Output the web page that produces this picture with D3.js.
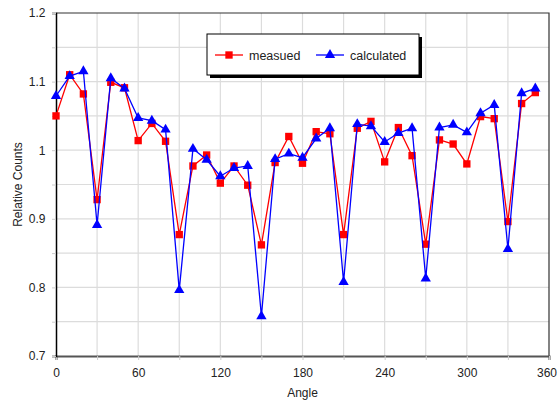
<!DOCTYPE html>
<html>
<head>
<meta charset="utf-8">
<script src="https://cdn.jsdelivr.net/npm/d3@7/dist/d3.min.js"></script>
<style>
  html, body { margin: 0; padding: 0; background: #fff; }
  svg { display: block; font-family: "Liberation Sans", Arial, sans-serif; }
</style>
</head>
<body>
<svg id="chart" width="558" height="401"></svg>
<script>
// angle 0..350 step 10
const angles = [0,10,20,30,40,50,60,70,80,90,100,110,120,130,140,150,160,170,180,190,200,210,220,230,240,250,260,270,280,290,300,310,320,330,340,350];
const measured = [1.050,1.110,1.082,0.928,1.099,1.091,1.014,1.039,1.013,0.877,0.977,0.993,0.952,0.977,0.949,0.862,0.982,1.020,0.981,1.027,1.024,0.877,1.032,1.042,0.983,1.033,0.992,0.863,1.015,1.009,0.980,1.049,1.046,0.896,1.068,1.084];
const calculated = [1.079,1.108,1.115,0.891,1.105,1.090,1.047,1.043,1.030,0.796,1.002,0.986,0.962,0.974,0.977,0.758,0.987,0.995,0.989,1.017,1.032,0.808,1.038,1.035,1.012,1.025,1.032,0.813,1.033,1.037,1.026,1.054,1.066,0.856,1.083,1.090];
const xTickLabels = [0, 60, 120, 180, 240, 300, 360];
const yTickLabels = [0.7, 0.8, 0.9, 1.0, 1.1, 1.2];

const M = { left: 56, top: 13, right: 549, bottom: 356 };
const svg = d3.select('#chart');

const x = d3.scaleLinear().domain([0, 360]).range([M.left, M.right]);
const y = d3.scaleLinear().domain([0.7, 1.2]).range([M.bottom, M.top]);

// grid
const xGrid = d3.range(0, 361, 30), yGrid = d3.range(0.7, 1.2001, 0.05);
svg.append('g').selectAll('line').data(xGrid.slice(1, -1)).join('line')
  .attr('x1', d => x(d)).attr('x2', d => x(d)).attr('y1', M.top).attr('y2', M.bottom)
  .attr('stroke', '#dcdcdc').attr('stroke-width', 1.2);
svg.append('g').selectAll('line').data(yGrid.slice(1, -1)).join('line')
  .attr('y1', d => y(d)).attr('y2', d => y(d)).attr('x1', M.left).attr('x2', M.right)
  .attr('stroke', '#dcdcdc').attr('stroke-width', 1.2);

// frame (top/right)
svg.append('path')
  .attr('d', `M${M.left},${M.top}H${M.right}V${M.bottom}`)
  .attr('fill', 'none').attr('stroke', '#333').attr('stroke-width', 1.2);

// axes
const xAxis = d3.axisBottom(x).tickValues(xGrid).tickSize(4)
  .tickFormat(d => xTickLabels.includes(d) ? d : '');
const gx = svg.append('g').attr('transform', `translate(0,${M.bottom})`).call(xAxis);
gx.select('.domain').attr('stroke', '#555').attr('stroke-width', 2);
gx.selectAll('.tick line').attr('stroke', '#ccc');
gx.selectAll('text').attr('font-size', 12).attr('fill', '#222').attr('dy', '1.2em')
  .attr('font-family', '"Liberation Sans", Arial, sans-serif')
  .attr('dx', d => d === 360 ? -2.5 : 0);

const yAxis = d3.axisLeft(y).tickValues(yGrid).tickSize(4)
  .tickFormat(d => yTickLabels.some(v => Math.abs(v - d) < 1e-6) ? d3.format('')(+d.toFixed(1)) : '');
const gy = svg.append('g').attr('transform', `translate(${M.left},0)`).call(yAxis);
gy.select('.domain').attr('stroke', '#000').attr('stroke-width', 1.5);
gy.selectAll('.tick line').attr('stroke', '#ccc');
gy.selectAll('text').attr('font-size', 12).attr('fill', '#222').attr('dx', '-0.3em')
  .attr('font-family', '"Liberation Sans", Arial, sans-serif');

// axis titles
svg.append('text').attr('x', (M.left + M.right) / 2).attr('y', 397)
  .attr('text-anchor', 'middle').attr('font-size', 12).attr('fill', '#222').text('Angle');
svg.append('text').attr('transform', `translate(22,${(M.top + M.bottom) / 2}) rotate(-90)`)
  .attr('text-anchor', 'middle').attr('font-size', 12).attr('fill', '#222').text('Relative Counts');

// series
const series = [
  { name: 'measued', values: measured, color: '#ff0000', shape: d3.symbolSquare, size: 54 },
  { name: 'calculated', values: calculated, color: '#0000ff', shape: d3.symbolTriangle, size: 46 }
];
const line = d3.line().x((d, i) => x(angles[i])).y(d => y(d));
series.forEach(s => {
  const g = svg.append('g');
  g.append('path').datum(s.values).attr('d', line)
    .attr('fill', 'none').attr('stroke', s.color).attr('stroke-width', 1.3);
  g.selectAll('path.pt').data(s.values).join('path').attr('class', 'pt')
    .attr('transform', (d, i) => `translate(${x(angles[i])},${y(d)})`)
    .attr('d', d3.symbol().type(s.shape).size(s.size))
    .attr('fill', s.color);
});

// legend
const L = { x: 207, y: 34, w: 212, h: 41 };
const lg = svg.append('g');
lg.append('rect').attr('x', L.x + 3).attr('y', L.y + 3).attr('width', L.w).attr('height', L.h).attr('fill', '#000');
lg.append('rect').attr('x', L.x).attr('y', L.y).attr('width', L.w).attr('height', L.h)
  .attr('fill', '#fff').attr('stroke', '#000').attr('stroke-width', 1);
const items = [{ s: series[0], x0: 215 }, { s: series[1], x0: 316 }];
items.forEach(({ s, x0 }) => {
  const cy = L.y + 21;
  lg.append('line').attr('x1', x0).attr('x2', x0 + 28).attr('y1', cy).attr('y2', cy)
    .attr('stroke', s.color).attr('stroke-width', 1.3);
  lg.append('path').attr('transform', `translate(${x0 + 14},${cy})`)
    .attr('d', d3.symbol().type(s.shape).size(s.size)).attr('fill', s.color);
  lg.append('text').attr('x', x0 + 34).attr('y', cy + 4.5).attr('font-size', 12.5)
    .attr('fill', '#222').text(s.name);
});
</script>
</body>
</html>
